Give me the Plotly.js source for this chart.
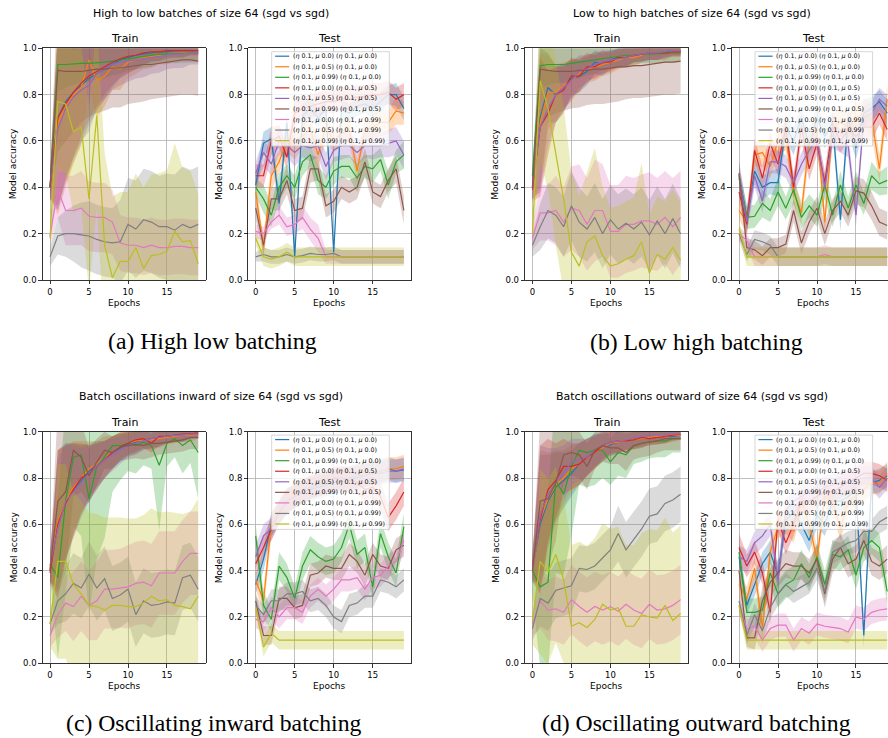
<!DOCTYPE html>
<html>
<head>
<meta charset="utf-8">
<script src="https://cdn.plot.ly/plotly-3.0.1.min.js"></script>
<style>html,body{margin:0;padding:0;background:#fff;}#chart{width:888px;height:738px;}</style>
</head>
<body>
<div id="chart"></div>
<script>
// ---------------- DATA ----------------
const epochs = [0,1,2,3,4,5,6,7,8,9,10,11,12,13,14,15,16,17,18,19];
const legendLabels = [
  '(η 0.1, μ 0.0) (η 0.1, μ 0.0)',
  '(η 0.1, μ 0.5) (η 0.1, μ 0.0)',
  '(η 0.1, μ 0.99) (η 0.1, μ 0.0)',
  '(η 0.1, μ 0.0) (η 0.1, μ 0.5)',
  '(η 0.1, μ 0.5) (η 0.1, μ 0.5)',
  '(η 0.1, μ 0.99) (η 0.1, μ 0.5)',
  '(η 0.1, μ 0.0) (η 0.1, μ 0.99)',
  '(η 0.1, μ 0.5) (η 0.1, μ 0.99)',
  '(η 0.1, μ 0.99) (η 0.1, μ 0.99)'
];
const seriesColors = ['#1f77b4','#ff7f0e','#2ca02c','#d62728','#9467bd','#8c564b','#e377c2','#7f7f7f','#bcbd22'];
const suptitles = [
  'High to low batches of size 64 (sgd vs sgd)',
  'Low to high batches of size 64 (sgd vs sgd)',
  'Batch oscillations inward of size 64 (sgd vs sgd)',
  'Batch oscillations outward of size 64 (sgd vs sgd)'
];
const captions = ['(a) High low batching','(b) Low high batching','(c) Oscillating inward batching','(d) Oscillating outward batching'];
const xTicks = [0,5,10,15];
const yTicks = [0,0.2,0.4,0.6,0.8,1.0];

// (a) High to low — Train
const hlTrainMean = [
  [0.40,0.70,0.77,0.81,0.84,0.87,0.89,0.91,0.93,0.95,0.96,0.97,0.975,0.98,0.985,0.985,0.99,0.99,0.99,0.99],
  [0.40,0.68,0.75,0.80,0.83,0.95,0.86,0.88,0.92,0.91,0.94,0.95,0.96,0.965,0.97,0.97,0.975,0.98,0.98,0.98],
  [0.40,0.93,0.93,0.933,0.935,0.935,0.936,0.94,0.945,0.95,0.955,0.96,0.965,0.97,0.975,0.975,0.975,0.978,0.98,0.98],
  [0.40,0.70,0.76,0.81,0.85,0.88,0.90,0.92,0.94,0.955,0.965,0.97,0.98,0.985,0.985,0.99,0.99,0.99,0.99,0.99],
  [0.41,0.65,0.74,0.79,0.82,0.84,0.89,0.91,0.93,0.94,0.945,0.95,0.955,0.96,0.965,0.97,0.975,0.975,0.98,0.98],
  [0.40,0.905,0.90,0.90,0.90,0.905,0.91,0.91,0.915,0.915,0.92,0.925,0.93,0.93,0.935,0.94,0.945,0.95,0.95,0.945],
  [0.19,0.39,0.30,0.30,0.31,0.275,0.27,0.27,0.25,0.16,0.15,0.15,0.14,0.15,0.14,0.14,0.145,0.145,0.14,0.14],
  [0.10,0.19,0.20,0.20,0.195,0.19,0.175,0.165,0.16,0.165,0.24,0.22,0.26,0.25,0.23,0.23,0.215,0.24,0.225,0.24],
  [0.18,0.77,0.76,0.64,0.66,0.35,0.71,0.15,0.01,0.08,0.08,0.14,0.05,0.105,0.11,0.125,0.21,0.165,0.17,0.07]
];
const hlTrainStd = [
  [0.05,0.40,0.35,0.30,0.25,0.20,0.16,0.13,0.10,0.08,0.07,0.06,0.05,0.04,0.04,0.03,0.03,0.03,0.02,0.02],
  [0.05,0.40,0.35,0.30,0.25,0.12,0.16,0.13,0.10,0.09,0.07,0.06,0.05,0.05,0.04,0.04,0.03,0.03,0.03,0.03],
  [0.05,0.12,0.10,0.09,0.08,0.08,0.07,0.07,0.06,0.06,0.05,0.05,0.05,0.05,0.04,0.04,0.04,0.04,0.04,0.04],
  [0.05,0.38,0.33,0.28,0.23,0.19,0.15,0.12,0.10,0.08,0.07,0.06,0.05,0.04,0.04,0.03,0.03,0.03,0.02,0.02],
  [0.05,0.35,0.30,0.26,0.22,0.20,0.15,0.13,0.11,0.10,0.09,0.08,0.08,0.07,0.07,0.06,0.06,0.06,0.05,0.05],
  [0.05,0.35,0.30,0.26,0.22,0.20,0.19,0.18,0.17,0.17,0.16,0.16,0.16,0.15,0.15,0.15,0.15,0.15,0.15,0.15],
  [0.04,0.12,0.15,0.15,0.16,0.15,0.15,0.15,0.14,0.12,0.12,0.12,0.12,0.12,0.12,0.12,0.12,0.12,0.12,0.12],
  [0.04,0.08,0.10,0.12,0.14,0.15,0.15,0.15,0.15,0.18,0.20,0.21,0.22,0.22,0.22,0.23,0.24,0.25,0.25,0.25],
  [0.05,0.30,0.30,0.35,0.35,0.40,0.40,0.40,0.35,0.30,0.30,0.32,0.35,0.35,0.35,0.35,0.38,0.32,0.30,0.30]
];
// (a) High to low — Test
const hlTestMean = [
  [0.41,0.59,0.61,0.33,0.68,0.10,0.71,0.74,0.70,0.74,0.12,0.74,0.72,0.75,0.76,0.74,0.77,0.80,0.80,0.74],
  [0.38,0.14,0.45,0.51,0.60,0.58,0.62,0.65,0.54,0.66,0.60,0.63,0.65,0.47,0.65,0.66,0.68,0.68,0.73,0.72],
  [0.40,0.35,0.28,0.40,0.45,0.40,0.51,0.54,0.43,0.40,0.47,0.49,0.49,0.44,0.49,0.48,0.52,0.41,0.51,0.54],
  [0.45,0.45,0.60,0.62,0.53,0.72,0.74,0.75,0.76,0.77,0.77,0.78,0.78,0.79,0.79,0.80,0.80,0.81,0.78,0.80],
  [0.46,0.55,0.50,0.60,0.58,0.55,0.58,0.57,0.58,0.49,0.56,0.58,0.58,0.55,0.58,0.58,0.58,0.59,0.60,0.54],
  [0.31,0.15,0.35,0.35,0.43,0.30,0.31,0.48,0.48,0.32,0.34,0.40,0.38,0.40,0.51,0.38,0.36,0.43,0.48,0.30],
  [0.21,0.20,0.25,0.28,0.23,0.24,0.27,0.22,0.18,0.10,0.10,0.10,0.10,0.10,0.10,0.10,0.10,0.10,0.10,0.10],
  [0.10,0.11,0.10,0.10,0.11,0.10,0.105,0.115,0.11,0.11,0.115,0.10,0.10,0.10,0.10,0.10,0.10,0.10,0.10,0.10],
  [0.18,0.10,0.09,0.10,0.12,0.10,0.10,0.10,0.10,0.10,0.10,0.10,0.10,0.10,0.10,0.10,0.10,0.10,0.10,0.10]
];
const hlTestStd = [
  [0.04,0.05,0.05,0.06,0.05,0.03,0.05,0.05,0.04,0.04,0.03,0.04,0.04,0.04,0.04,0.04,0.04,0.04,0.05,0.05],
  [0.05,0.04,0.06,0.05,0.05,0.06,0.05,0.05,0.06,0.05,0.05,0.05,0.06,0.05,0.05,0.05,0.06,0.05,0.06,0.05],
  [0.04,0.06,0.05,0.06,0.05,0.05,0.06,0.05,0.06,0.05,0.06,0.05,0.05,0.06,0.05,0.06,0.05,0.06,0.05,0.06],
  [0.05,0.05,0.06,0.05,0.05,0.05,0.05,0.05,0.05,0.05,0.05,0.05,0.05,0.05,0.05,0.05,0.05,0.05,0.05,0.05],
  [0.05,0.06,0.05,0.06,0.05,0.06,0.05,0.06,0.05,0.06,0.05,0.06,0.05,0.06,0.05,0.06,0.05,0.06,0.06,0.06],
  [0.05,0.04,0.05,0.05,0.06,0.05,0.05,0.06,0.05,0.05,0.05,0.05,0.05,0.05,0.06,0.05,0.05,0.05,0.06,0.06],
  [0.03,0.03,0.03,0.04,0.04,0.04,0.05,0.05,0.06,0.03,0.03,0.03,0.03,0.03,0.03,0.03,0.03,0.03,0.03,0.03],
  [0.02,0.03,0.03,0.03,0.03,0.03,0.03,0.03,0.03,0.03,0.03,0.03,0.03,0.03,0.03,0.03,0.03,0.03,0.03,0.03],
  [0.03,0.04,0.04,0.04,0.04,0.04,0.04,0.04,0.04,0.04,0.04,0.04,0.04,0.04,0.04,0.04,0.04,0.04,0.04,0.04]
];
// (b) Low to high — Train
const lhTrainMean = [
  [0.40,0.70,0.83,0.80,0.83,0.87,0.88,0.90,0.94,0.93,0.95,0.96,0.96,0.97,0.97,0.98,0.98,0.985,0.99,0.99],
  [0.40,0.68,0.81,0.81,0.84,0.86,0.89,0.91,0.92,0.93,0.94,0.95,0.96,0.96,0.97,0.98,0.98,0.98,0.985,0.985],
  [0.45,0.925,0.93,0.93,0.93,0.935,0.94,0.945,0.95,0.955,0.96,0.965,0.97,0.97,0.975,0.975,0.975,0.978,0.98,0.98],
  [0.39,0.66,0.72,0.80,0.82,0.88,0.88,0.92,0.92,0.94,0.94,0.96,0.96,0.97,0.975,0.98,0.98,0.98,0.985,0.985],
  [0.40,0.66,0.74,0.80,0.83,0.86,0.90,0.91,0.93,0.94,0.95,0.955,0.96,0.97,0.975,0.98,0.98,0.985,0.99,0.99],
  [0.40,0.91,0.905,0.90,0.90,0.90,0.905,0.905,0.91,0.91,0.915,0.92,0.92,0.925,0.925,0.93,0.935,0.94,0.94,0.945],
  [0.18,0.29,0.29,0.30,0.25,0.31,0.30,0.24,0.30,0.30,0.21,0.21,0.24,0.24,0.255,0.255,0.24,0.27,0.23,0.27],
  [0.15,0.23,0.30,0.28,0.23,0.32,0.25,0.22,0.27,0.20,0.26,0.22,0.245,0.22,0.25,0.195,0.255,0.20,0.265,0.20],
  [0.20,0.86,0.74,0.55,0.35,0.12,0.06,0.165,0.19,0.105,0.06,0.07,0.09,0.105,0.165,0.03,0.11,0.09,0.14,0.085]
];
const lhTrainStd = [
  [0.05,0.30,0.15,0.12,0.10,0.08,0.07,0.06,0.05,0.05,0.04,0.04,0.04,0.03,0.03,0.03,0.03,0.02,0.02,0.02],
  [0.05,0.30,0.16,0.12,0.10,0.09,0.07,0.06,0.06,0.05,0.05,0.04,0.04,0.04,0.03,0.03,0.03,0.03,0.02,0.02],
  [0.05,0.10,0.09,0.08,0.08,0.07,0.07,0.06,0.06,0.05,0.05,0.05,0.05,0.04,0.04,0.04,0.04,0.04,0.04,0.04],
  [0.05,0.30,0.18,0.12,0.10,0.08,0.07,0.06,0.05,0.05,0.04,0.04,0.04,0.03,0.03,0.03,0.03,0.02,0.02,0.02],
  [0.05,0.28,0.16,0.12,0.10,0.08,0.07,0.06,0.05,0.05,0.04,0.04,0.04,0.03,0.03,0.03,0.03,0.03,0.02,0.02],
  [0.05,0.25,0.20,0.18,0.17,0.16,0.16,0.15,0.15,0.15,0.15,0.15,0.14,0.14,0.14,0.14,0.14,0.14,0.14,0.14],
  [0.05,0.12,0.12,0.15,0.15,0.18,0.20,0.20,0.22,0.20,0.20,0.20,0.21,0.20,0.20,0.21,0.20,0.20,0.21,0.20],
  [0.05,0.10,0.12,0.12,0.13,0.15,0.15,0.14,0.15,0.15,0.15,0.15,0.15,0.15,0.15,0.15,0.15,0.15,0.15,0.15],
  [0.05,0.35,0.35,0.40,0.40,0.35,0.30,0.30,0.38,0.30,0.25,0.25,0.25,0.25,0.34,0.25,0.25,0.25,0.25,0.25]
];
// (b) Low to high — Test
const lhTestMean = [
  [0.44,0.27,0.47,0.40,0.42,0.42,0.66,0.60,0.70,0.58,0.70,0.62,0.68,0.26,0.70,0.57,0.72,0.74,0.77,0.72],
  [0.30,0.25,0.54,0.55,0.49,0.60,0.62,0.38,0.29,0.60,0.65,0.25,0.66,0.68,0.66,0.70,0.72,0.70,0.48,0.78],
  [0.45,0.27,0.275,0.33,0.30,0.38,0.31,0.39,0.27,0.32,0.28,0.41,0.28,0.41,0.31,0.41,0.33,0.45,0.415,0.43],
  [0.38,0.24,0.56,0.44,0.59,0.50,0.66,0.40,0.66,0.48,0.59,0.42,0.66,0.60,0.65,0.62,0.66,0.66,0.72,0.65],
  [0.46,0.25,0.45,0.34,0.51,0.51,0.49,0.42,0.50,0.56,0.61,0.40,0.62,0.60,0.58,0.28,0.70,0.72,0.78,0.75],
  [0.46,0.14,0.13,0.105,0.14,0.14,0.155,0.30,0.16,0.25,0.31,0.20,0.30,0.34,0.28,0.385,0.375,0.32,0.25,0.235],
  [0.20,0.17,0.10,0.10,0.10,0.10,0.10,0.10,0.10,0.10,0.10,0.11,0.10,0.10,0.10,0.10,0.10,0.10,0.10,0.10],
  [0.20,0.11,0.175,0.165,0.15,0.10,0.10,0.10,0.10,0.10,0.10,0.10,0.10,0.10,0.10,0.10,0.10,0.10,0.10,0.10],
  [0.22,0.10,0.10,0.10,0.10,0.10,0.10,0.10,0.10,0.10,0.10,0.10,0.10,0.10,0.10,0.10,0.10,0.10,0.10,0.10]
];
const lhTestStd = [
  [0.04,0.05,0.06,0.05,0.05,0.06,0.05,0.06,0.05,0.05,0.06,0.05,0.05,0.05,0.06,0.05,0.06,0.05,0.05,0.06],
  [0.04,0.05,0.05,0.06,0.05,0.06,0.06,0.05,0.05,0.06,0.06,0.05,0.06,0.06,0.06,0.06,0.06,0.07,0.06,0.06],
  [0.05,0.05,0.05,0.06,0.05,0.06,0.05,0.06,0.05,0.05,0.05,0.06,0.05,0.06,0.05,0.06,0.05,0.06,0.05,0.06],
  [0.04,0.05,0.05,0.05,0.05,0.05,0.06,0.05,0.06,0.05,0.05,0.05,0.06,0.05,0.05,0.05,0.05,0.06,0.05,0.05],
  [0.06,0.05,0.05,0.05,0.05,0.05,0.05,0.05,0.05,0.05,0.05,0.05,0.05,0.05,0.05,0.05,0.05,0.05,0.05,0.05],
  [0.05,0.04,0.04,0.04,0.04,0.04,0.04,0.05,0.05,0.05,0.05,0.05,0.05,0.05,0.05,0.06,0.06,0.06,0.06,0.06],
  [0.03,0.03,0.04,0.04,0.04,0.04,0.04,0.04,0.04,0.04,0.04,0.04,0.04,0.04,0.04,0.04,0.04,0.04,0.04,0.04],
  [0.03,0.03,0.04,0.04,0.04,0.04,0.04,0.04,0.04,0.04,0.04,0.04,0.04,0.04,0.04,0.04,0.04,0.04,0.04,0.04],
  [0.03,0.04,0.04,0.04,0.04,0.04,0.04,0.04,0.04,0.04,0.04,0.04,0.04,0.04,0.04,0.04,0.04,0.04,0.04,0.04]
];
// (c) Oscillating inward — Train
const inTrainMean = [
  [0.40,0.62,0.70,0.75,0.79,0.83,0.86,0.88,0.91,0.93,0.945,0.955,0.965,0.97,0.975,0.98,0.985,0.985,0.99,0.99],
  [0.41,0.62,0.70,0.76,0.80,0.84,0.86,0.89,0.91,0.94,0.95,0.96,0.965,0.965,0.97,0.975,0.98,0.985,0.985,0.99],
  [0.43,0.37,0.70,0.89,0.90,0.71,0.85,0.89,0.94,0.94,0.95,0.94,0.955,0.94,0.855,0.95,0.97,0.94,0.965,0.91],
  [0.39,0.60,0.69,0.75,0.80,0.82,0.85,0.88,0.91,0.935,0.95,0.965,0.97,0.95,0.98,0.98,0.985,0.99,0.99,0.995],
  [0.42,0.58,0.70,0.74,0.78,0.82,0.85,0.88,0.90,0.92,0.94,0.95,0.96,0.97,0.975,0.98,0.985,0.985,0.99,0.99],
  [0.40,0.70,0.74,0.92,0.89,0.81,0.87,0.92,0.91,0.935,0.94,0.945,0.94,0.95,0.95,0.955,0.96,0.965,0.975,0.975],
  [0.12,0.21,0.26,0.245,0.29,0.25,0.27,0.32,0.32,0.325,0.33,0.345,0.35,0.335,0.39,0.39,0.39,0.44,0.475,0.475],
  [0.17,0.27,0.30,0.345,0.325,0.385,0.325,0.365,0.28,0.295,0.32,0.21,0.27,0.25,0.255,0.265,0.26,0.37,0.38,0.32],
  [0.17,0.44,0.44,0.34,0.30,0.25,0.245,0.23,0.25,0.25,0.245,0.245,0.26,0.29,0.27,0.275,0.25,0.245,0.235,0.29]
];
const inTrainStd = [
  [0.05,0.30,0.25,0.20,0.15,0.12,0.10,0.08,0.07,0.06,0.05,0.05,0.04,0.04,0.04,0.03,0.03,0.03,0.02,0.02],
  [0.05,0.30,0.24,0.20,0.16,0.12,0.10,0.09,0.07,0.06,0.05,0.05,0.04,0.04,0.04,0.03,0.03,0.03,0.03,0.02],
  [0.05,0.35,0.40,0.30,0.35,0.50,0.40,0.35,0.20,0.15,0.12,0.12,0.10,0.10,0.28,0.10,0.08,0.12,0.10,0.20],
  [0.05,0.32,0.25,0.20,0.15,0.12,0.10,0.08,0.07,0.06,0.05,0.05,0.04,0.04,0.04,0.03,0.03,0.03,0.02,0.02],
  [0.05,0.30,0.25,0.20,0.15,0.12,0.10,0.08,0.07,0.06,0.05,0.05,0.04,0.04,0.04,0.03,0.03,0.03,0.02,0.02],
  [0.05,0.40,0.35,0.20,0.15,0.12,0.10,0.08,0.07,0.06,0.06,0.06,0.06,0.06,0.05,0.05,0.05,0.05,0.05,0.05],
  [0.05,0.10,0.12,0.15,0.15,0.15,0.17,0.17,0.17,0.17,0.18,0.18,0.18,0.18,0.18,0.18,0.18,0.18,0.18,0.18],
  [0.05,0.10,0.12,0.13,0.13,0.14,0.14,0.14,0.14,0.14,0.14,0.14,0.14,0.14,0.14,0.14,0.14,0.14,0.14,0.14],
  [0.10,0.42,0.42,0.40,0.40,0.40,0.40,0.40,0.38,0.38,0.38,0.38,0.38,0.38,0.38,0.38,0.40,0.40,0.42,0.42]
];
// (c) Oscillating inward — Test
const inTestMean = [
  [0.34,0.45,0.60,0.65,0.70,0.72,0.74,0.75,0.76,0.77,0.78,0.79,0.80,0.80,0.81,0.82,0.83,0.84,0.83,0.835],
  [0.36,0.27,0.60,0.66,0.70,0.73,0.75,0.76,0.77,0.78,0.79,0.80,0.80,0.81,0.82,0.82,0.83,0.84,0.84,0.85],
  [0.55,0.25,0.19,0.42,0.37,0.28,0.42,0.49,0.46,0.44,0.45,0.50,0.60,0.47,0.50,0.33,0.56,0.46,0.39,0.59],
  [0.43,0.50,0.58,0.65,0.70,0.72,0.74,0.76,0.77,0.78,0.80,0.80,0.79,0.78,0.75,0.76,0.72,0.63,0.68,0.74],
  [0.46,0.55,0.58,0.65,0.70,0.72,0.74,0.76,0.77,0.78,0.79,0.80,0.80,0.81,0.81,0.82,0.82,0.83,0.83,0.84],
  [0.27,0.12,0.12,0.28,0.28,0.24,0.25,0.38,0.39,0.42,0.41,0.41,0.47,0.44,0.38,0.47,0.42,0.41,0.49,0.51],
  [0.19,0.18,0.24,0.20,0.24,0.24,0.22,0.29,0.32,0.29,0.32,0.36,0.36,0.37,0.32,0.37,0.38,0.42,0.44,0.53],
  [0.25,0.21,0.27,0.27,0.30,0.30,0.31,0.27,0.28,0.25,0.20,0.18,0.25,0.26,0.29,0.29,0.36,0.35,0.33,0.36],
  [0.24,0.07,0.13,0.10,0.10,0.10,0.10,0.10,0.10,0.10,0.10,0.10,0.10,0.10,0.10,0.10,0.10,0.10,0.10,0.10]
];
const inTestStd = [
  [0.04,0.05,0.05,0.05,0.06,0.05,0.05,0.05,0.05,0.05,0.05,0.05,0.05,0.05,0.05,0.05,0.05,0.05,0.05,0.05],
  [0.04,0.05,0.05,0.05,0.05,0.06,0.05,0.05,0.05,0.05,0.05,0.05,0.05,0.05,0.05,0.05,0.05,0.05,0.05,0.05],
  [0.05,0.06,0.05,0.06,0.06,0.05,0.06,0.06,0.06,0.06,0.06,0.06,0.06,0.06,0.06,0.06,0.06,0.06,0.06,0.06],
  [0.05,0.05,0.05,0.05,0.05,0.05,0.05,0.05,0.05,0.05,0.05,0.05,0.05,0.05,0.05,0.05,0.06,0.06,0.06,0.06],
  [0.05,0.05,0.05,0.05,0.05,0.05,0.05,0.05,0.05,0.05,0.05,0.05,0.05,0.05,0.05,0.05,0.05,0.05,0.05,0.05],
  [0.04,0.04,0.04,0.05,0.05,0.05,0.05,0.05,0.05,0.05,0.05,0.05,0.05,0.05,0.05,0.05,0.05,0.05,0.05,0.05],
  [0.04,0.04,0.05,0.05,0.05,0.05,0.05,0.05,0.05,0.05,0.05,0.05,0.05,0.05,0.05,0.05,0.05,0.05,0.05,0.05],
  [0.04,0.04,0.05,0.05,0.05,0.05,0.05,0.05,0.05,0.05,0.05,0.05,0.05,0.05,0.05,0.05,0.05,0.05,0.05,0.05],
  [0.03,0.04,0.04,0.04,0.04,0.04,0.04,0.04,0.04,0.04,0.04,0.04,0.04,0.04,0.04,0.04,0.04,0.04,0.04,0.04]
];
// (d) Oscillating outward — Train
const outTrainMean = [
  [0.40,0.60,0.70,0.76,0.79,0.82,0.86,0.89,0.92,0.93,0.945,0.955,0.96,0.965,0.97,0.975,0.975,0.98,0.98,0.985],
  [0.40,0.62,0.71,0.77,0.80,0.84,0.86,0.89,0.91,0.93,0.95,0.955,0.96,0.965,0.97,0.975,0.98,0.98,0.985,0.985],
  [0.40,0.33,0.35,0.79,0.73,0.85,0.92,0.91,0.92,0.92,0.87,0.91,0.90,0.94,0.95,0.955,0.96,0.96,0.97,0.97],
  [0.42,0.62,0.75,0.79,0.85,0.85,0.86,0.89,0.91,0.94,0.955,0.96,0.96,0.965,0.975,0.97,0.975,0.98,0.985,0.99],
  [0.41,0.64,0.73,0.78,0.82,0.87,0.88,0.89,0.92,0.94,0.955,0.96,0.965,0.975,0.98,0.985,0.985,0.99,0.99,0.99],
  [0.40,0.70,0.71,0.78,0.90,0.91,0.90,0.85,0.92,0.94,0.93,0.93,0.91,0.94,0.95,0.955,0.96,0.97,0.97,0.97],
  [0.17,0.27,0.23,0.235,0.22,0.275,0.245,0.22,0.245,0.23,0.245,0.225,0.255,0.23,0.215,0.255,0.23,0.235,0.25,0.275],
  [0.15,0.28,0.26,0.315,0.325,0.335,0.41,0.405,0.42,0.455,0.49,0.56,0.49,0.535,0.58,0.635,0.645,0.69,0.705,0.73],
  [0.18,0.44,0.395,0.47,0.36,0.16,0.175,0.155,0.19,0.255,0.23,0.24,0.16,0.16,0.21,0.20,0.195,0.25,0.185,0.215]
];
const outTrainStd = [
  [0.05,0.30,0.20,0.15,0.12,0.10,0.09,0.08,0.07,0.06,0.05,0.05,0.04,0.04,0.04,0.03,0.03,0.03,0.02,0.02],
  [0.05,0.30,0.20,0.15,0.12,0.10,0.09,0.08,0.07,0.06,0.05,0.05,0.04,0.04,0.04,0.03,0.03,0.03,0.03,0.02],
  [0.10,0.35,0.38,0.40,0.35,0.30,0.15,0.15,0.15,0.12,0.10,0.10,0.10,0.08,0.08,0.07,0.07,0.07,0.06,0.06],
  [0.05,0.32,0.22,0.16,0.12,0.10,0.09,0.08,0.07,0.06,0.05,0.05,0.04,0.04,0.04,0.03,0.03,0.03,0.02,0.02],
  [0.05,0.30,0.20,0.15,0.12,0.10,0.09,0.08,0.07,0.06,0.05,0.05,0.04,0.04,0.04,0.03,0.03,0.03,0.02,0.02],
  [0.05,0.35,0.30,0.25,0.12,0.10,0.10,0.10,0.08,0.07,0.07,0.07,0.08,0.06,0.06,0.06,0.05,0.05,0.05,0.05],
  [0.05,0.12,0.13,0.14,0.14,0.15,0.15,0.15,0.15,0.15,0.15,0.15,0.15,0.15,0.15,0.15,0.15,0.15,0.15,0.15],
  [0.05,0.12,0.12,0.12,0.12,0.12,0.10,0.10,0.10,0.10,0.10,0.12,0.12,0.12,0.12,0.12,0.12,0.12,0.12,0.12],
  [0.10,0.40,0.40,0.38,0.36,0.35,0.35,0.35,0.35,0.35,0.35,0.35,0.35,0.35,0.35,0.38,0.38,0.38,0.38,0.38]
];
// (d) Oscillating outward — Test
const outTestMean = [
  [0.46,0.25,0.34,0.43,0.48,0.38,0.62,0.65,0.60,0.53,0.64,0.60,0.70,0.70,0.72,0.75,0.12,0.78,0.79,0.81],
  [0.34,0.28,0.41,0.15,0.48,0.59,0.62,0.57,0.70,0.60,0.45,0.72,0.70,0.58,0.70,0.72,0.75,0.78,0.78,0.82],
  [0.48,0.22,0.22,0.23,0.39,0.30,0.34,0.36,0.43,0.37,0.46,0.34,0.47,0.46,0.49,0.38,0.50,0.53,0.50,0.31],
  [0.50,0.42,0.48,0.39,0.22,0.62,0.52,0.60,0.70,0.70,0.72,0.74,0.74,0.76,0.78,0.80,0.82,0.82,0.81,0.79],
  [0.46,0.44,0.52,0.55,0.60,0.36,0.66,0.70,0.72,0.74,0.74,0.76,0.77,0.78,0.78,0.79,0.80,0.80,0.76,0.80],
  [0.40,0.11,0.11,0.27,0.35,0.39,0.43,0.42,0.42,0.39,0.45,0.30,0.45,0.50,0.43,0.45,0.53,0.44,0.42,0.45],
  [0.25,0.15,0.16,0.10,0.15,0.165,0.165,0.10,0.15,0.13,0.17,0.16,0.155,0.15,0.135,0.20,0.19,0.22,0.23,0.235],
  [0.27,0.12,0.21,0.14,0.24,0.30,0.34,0.31,0.33,0.35,0.41,0.31,0.48,0.50,0.52,0.53,0.57,0.57,0.61,0.63],
  [0.25,0.10,0.10,0.10,0.10,0.10,0.10,0.10,0.10,0.10,0.10,0.10,0.10,0.10,0.10,0.10,0.10,0.10,0.10,0.10]
];
const outTestStd = [
  [0.04,0.04,0.05,0.05,0.05,0.05,0.05,0.05,0.05,0.05,0.05,0.05,0.05,0.05,0.05,0.05,0.05,0.05,0.05,0.05],
  [0.05,0.05,0.05,0.05,0.05,0.05,0.06,0.05,0.05,0.05,0.05,0.05,0.05,0.05,0.05,0.05,0.05,0.05,0.05,0.05],
  [0.05,0.06,0.06,0.06,0.06,0.06,0.06,0.06,0.06,0.06,0.06,0.06,0.06,0.06,0.06,0.06,0.06,0.06,0.06,0.05],
  [0.06,0.05,0.05,0.05,0.05,0.05,0.05,0.05,0.05,0.05,0.05,0.05,0.05,0.05,0.05,0.05,0.05,0.05,0.05,0.05],
  [0.05,0.05,0.05,0.05,0.05,0.05,0.05,0.05,0.05,0.05,0.05,0.05,0.05,0.05,0.05,0.05,0.05,0.05,0.05,0.05],
  [0.06,0.04,0.05,0.06,0.06,0.06,0.06,0.06,0.06,0.06,0.06,0.06,0.06,0.06,0.06,0.06,0.06,0.06,0.06,0.06],
  [0.04,0.04,0.05,0.05,0.05,0.05,0.05,0.05,0.05,0.05,0.05,0.05,0.05,0.05,0.05,0.05,0.05,0.05,0.05,0.05],
  [0.04,0.04,0.05,0.05,0.05,0.05,0.05,0.05,0.05,0.05,0.05,0.05,0.05,0.05,0.05,0.05,0.05,0.05,0.05,0.05],
  [0.03,0.04,0.04,0.04,0.04,0.04,0.04,0.04,0.04,0.04,0.04,0.04,0.04,0.04,0.04,0.04,0.04,0.04,0.04,0.04]
];

// ---------------- LAYOUT GEOMETRY (pixels) ----------------
const W = 888, H = 738;
const colL = {train:[42.6,205.6], test:[248.3,411.3]};
const colR = {train:[525,688], test:[731.6,894.6]};
const rowT = [48.3,280], rowB = [431.7,663.3];
const panels = [
  {mean:hlTrainMean, std:hlTrainStd, xs:colL.train, ys:rowT, title:'Train'},
  {mean:hlTestMean,  std:hlTestStd,  xs:colL.test,  ys:rowT, title:'Test', legend:true},
  {mean:lhTrainMean, std:lhTrainStd, xs:colR.train, ys:rowT, title:'Train'},
  {mean:lhTestMean,  std:lhTestStd,  xs:colR.test,  ys:rowT, title:'Test', legend:true},
  {mean:inTrainMean, std:inTrainStd, xs:colL.train, ys:rowB, title:'Train'},
  {mean:inTestMean,  std:inTestStd,  xs:colL.test,  ys:rowB, title:'Test', legend:true},
  {mean:outTrainMean,std:outTrainStd,xs:colR.train, ys:rowB, title:'Train'},
  {mean:outTestMean, std:outTestStd, xs:colR.test,  ys:rowB, title:'Test', legend:true}
];
const figTitles = [
  {text:suptitles[0], x:211, y:13}, {text:suptitles[1], x:692, y:13},
  {text:suptitles[2], x:211, y:396}, {text:suptitles[3], x:692, y:396}
];
const figCaptions = [
  {text:captions[0], x:212, y:341}, {text:captions[1], x:696, y:342},
  {text:captions[2], x:213, y:723}, {text:captions[3], x:696, y:723}
];

function rgba(hex, a){
  const r = parseInt(hex.slice(1,3),16), g = parseInt(hex.slice(3,5),16), b = parseInt(hex.slice(5,7),16);
  return `rgba(${r},${g},${b},${a})`;
}
const px = v => v / W;
const py = v => 1 - v / H;
const FONT = 'DejaVu Sans, Verdana, sans-serif';

const bandTraces = [], lineTraces = [];
const layout = {
  width: W, height: H, margin:{l:0,r:0,t:0,b:0},
  paper_bgcolor:'#ffffff', plot_bgcolor:'rgba(0,0,0,0)',
  showlegend:false, font:{family:FONT, color:'#000'},
  annotations:[], shapes:[]
};

panels.forEach((p, i) => {
  const n = i + 1;
  const xa = 'x' + (n === 1 ? '' : n), ya = 'y' + (n === 1 ? '' : n);
  const xaKey = 'xaxis' + (n === 1 ? '' : n), yaKey = 'yaxis' + (n === 1 ? '' : n);
  const fullW = p.xs[1] - p.xs[0];
  const pxPerEpoch = fullW / 20.9;
  const visRight = Math.min(p.xs[1], W);
  const clipped = p.xs[1] > W;
  layout[xaKey] = {
    domain:[px(p.xs[0]), px(visRight)], anchor: ya,
    range:[-0.95, -0.95 + (visRight - p.xs[0]) / pxPerEpoch],
    tickmode:'array', tickvals:xTicks, ticktext:xTicks.map(String),
    ticks:'outside', ticklen:3.5, tickwidth:0.8, tickcolor:'#000',
    showgrid:true, gridcolor:'#b0b0b0', gridwidth:0.8, zeroline:false,
    showline:true, linecolor:'#000', linewidth:0.8, mirror:true,
    tickfont:{size:8.5, family:FONT, color:'#000'}, fixedrange:true
  };
  layout[yaKey] = {
    domain:[py(p.ys[1]), py(p.ys[0])], anchor: xa,
    range:[0,1],
    tickmode:'array', tickvals:yTicks, ticktext:yTicks.map(v => v.toFixed(1)),
    ticks:'outside', ticklen:3.5, tickwidth:0.8, tickcolor:'#000',
    showgrid:true, gridcolor:'#b0b0b0', gridwidth:0.8, zeroline:false,
    showline:true, linecolor:'#000', linewidth:0.8, mirror: !clipped,
    tickfont:{size:8.5, family:FONT, color:'#000'}, fixedrange:true
  };

  p.mean.forEach((m, s) => {
    const sd = p.std[s];
    const upper = m.map((v, k) => v + sd[k]);
    const lower = m.map((v, k) => v - sd[k]);
    bandTraces.push({
      type:'scatter', mode:'lines', xaxis:xa, yaxis:ya,
      x: epochs.concat(epochs.slice().reverse()),
      y: upper.concat(lower.slice().reverse()),
      fill:'toself', fillcolor: rgba(seriesColors[s], 0.28),
      line:{width:0, color: rgba(seriesColors[s], 0)},
      hoverinfo:'skip', showlegend:false
    });
    lineTraces.push({
      type:'scatter', mode:'lines', xaxis:xa, yaxis:ya,
      x: epochs, y: m, name: legendLabels[s],
      line:{color: seriesColors[s], width:1.2}, showlegend:false
    });
  });

  const cx = (p.xs[0] + p.xs[1]) / 2, cy = (p.ys[0] + p.ys[1]) / 2;
  layout.annotations.push({xref:'paper', yref:'paper', x:px(cx), y:py(p.ys[0] - 9.5),
    text:p.title, showarrow:false, xanchor:'center', yanchor:'middle', font:{size:11, family:FONT, color:'#000'}});
  layout.annotations.push({xref:'paper', yref:'paper', x:px(cx), y:py(p.ys[1] + 23),
    text:'Epochs', showarrow:false, xanchor:'center', yanchor:'middle', font:{size:9, family:FONT, color:'#000'}});
  layout.annotations.push({xref:'paper', yref:'paper', x:px(p.xs[0] - 29.5), y:py(cy),
    text:'Model accuracy', textangle:-90, showarrow:false, xanchor:'center', yanchor:'middle', font:{size:9, family:FONT, color:'#000'}});

  if (p.legend) {
    const L = p.xs[0], T = p.ys[0];
    const bx0 = L + 23.4, bx1 = L + 141, by0 = T + 3.4, by1 = T + 97.7;
    layout.shapes.push({type:'rect', xref:'paper', yref:'paper', layer:'above',
      x0:px(bx0), x1:px(bx1), y0:py(by1), y1:py(by0),
      fillcolor:'rgba(255,255,255,0.8)', line:{color:'#cccccc', width:0.8}});
    legendLabels.forEach((lab, s) => {
      const yy = T + 7.9 + s * 10.55;
      layout.shapes.push({type:'line', xref:'paper', yref:'paper', layer:'above',
        x0:px(L + 26.8), x1:px(L + 41), y0:py(yy), y1:py(yy),
        line:{color:seriesColors[s], width:1.2}});
      layout.annotations.push({xref:'paper', yref:'paper', x:px(L + 43.2), y:py(yy),
        text: lab.replace(/η/g,'<i>η</i>').replace(/μ/g,'<i>μ</i>'),
        showarrow:false, xanchor:'left', yanchor:'middle', borderpad:0,
        font:{size:6.3, family:FONT, color:'#000'}});
    });
  }
});

figTitles.forEach(t => layout.annotations.push({xref:'paper', yref:'paper', x:px(t.x), y:py(t.y),
  text:t.text, showarrow:false, xanchor:'center', yanchor:'middle', font:{size:11, family:FONT, color:'#000'}}));
figCaptions.forEach(t => layout.annotations.push({xref:'paper', yref:'paper', x:px(t.x), y:py(t.y),
  text:t.text, showarrow:false, xanchor:'center', yanchor:'middle',
  font:{size:23.7, family:'Liberation Serif, Times New Roman, serif', color:'#000'}}));

Plotly.newPlot('chart', bandTraces.concat(lineTraces), layout, {displayModeBar:false, staticPlot:true});
</script>
</body>
</html>
